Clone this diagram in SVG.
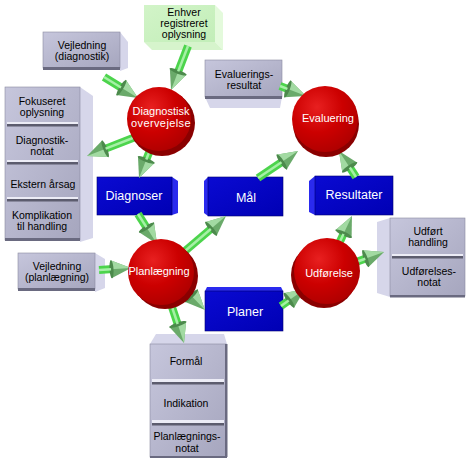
<svg xmlns="http://www.w3.org/2000/svg" width="471" height="463" viewBox="0 0 471 463">
<style>
text{font-family:"Liberation Sans",Arial,sans-serif;text-anchor:middle}
.g{font-size:10.5px;fill:#000}
.c{font-size:11px;fill:#fff}
.b{font-size:12.5px;fill:#fff}
.front{fill:url(#grayF);stroke:#8a8aa0;stroke-width:0.6}
.side{fill:#d6d6ea}
.edge{fill:#6a6a80}
.sepL{fill:#ececf6}
.sepD{fill:#5c5c6e}
.gfront{fill:url(#greenF)}
.gside{fill:#e4fadc}
.gbot{fill:#d6f4cc}
.bfront{fill:url(#blueF);stroke:#000070;stroke-width:0.6}
.bside{fill:#2a2aee}
.rim{fill:#8a0000}
.face{fill:url(#redF)}
.shaft{fill:none;stroke:#4cd44c;stroke-width:8;marker-end:url(#head)}
.hl{fill:none;stroke:#a6f0a6;stroke-width:2.5}
</style>
<defs>
<linearGradient id="grayF" x1="0" y1="0" x2="1" y2="1">
<stop offset="0" stop-color="#c6c6dc"/><stop offset="1" stop-color="#a6a6be"/>
</linearGradient>
<linearGradient id="greenF" x1="0" y1="0" x2="1" y2="1">
<stop offset="0" stop-color="#d2f4c8"/><stop offset="1" stop-color="#c2eeb8"/>
</linearGradient>
<linearGradient id="blueF" x1="0" y1="0" x2="1" y2="1">
<stop offset="0" stop-color="#0a0ad2"/><stop offset="1" stop-color="#0000b4"/>
</linearGradient>
<radialGradient id="redF" cx="0.38" cy="0.32" r="0.7">
<stop offset="0" stop-color="#e82020"/><stop offset="0.55" stop-color="#cc0000"/><stop offset="1" stop-color="#b00000"/>
</radialGradient>
<marker id="head" markerUnits="userSpaceOnUse" markerWidth="22" markerHeight="18" viewBox="0 0 22 18" refX="3" refY="9" orient="auto" overflow="visible">
<path d="M1,0 L21,9 L1,18 Z" fill="#6aaa6a"/>
<path d="M1,0 L21,9 L1,9 Z" fill="#a2daa2"/>
<ellipse cx="1.5" cy="9" rx="2" ry="9" fill="#4c8a4c"/>
</marker>
</defs>
<rect width="471" height="463" fill="#fff"/>

<g id="n-vejl-diag">
<polygon class="side" points="120,32 128,42 128,68 120,71"/>
<rect class="front" x="43" y="32" width="77" height="36"/>
<rect class="edge" x="43" y="67" width="77" height="3"/>
<text class="g" x="82" y="49">Vejledning</text>
<text class="g" x="82" y="60">(diagnostik)</text>
</g>

<g id="n-enhver">
<polygon class="gside" points="215,5 223,13 223,50 215,42"/>
<polygon class="gbot" points="144,42 215,42 223,50 152,50"/>
<rect class="gfront" x="144" y="5" width="71" height="37"/>
<text class="g" x="184" y="16">Enhver</text>
<text class="g" x="184" y="27">registreret</text>
<text class="g" x="184" y="38">oplysning</text>
</g>

<g id="n-evalres">
<polygon class="side" points="205,97 282,97 280,108 210,108"/>
<rect class="front" x="205" y="60" width="77" height="37"/>
<rect class="edge" x="205" y="96" width="77" height="3"/>
<text class="g" x="244" y="78">Evaluerings-</text>
<text class="g" x="244" y="89">resultat</text>
</g>

<g id="n-stack-left">
<polygon class="side" points="80,87 93,96 93,238 80,242"/>
<rect class="front" x="5" y="87" width="75" height="153"/>
<rect class="edge" x="5" y="238" width="75" height="3"/>
<rect class="sepL" x="7" y="122" width="71" height="2"/><rect class="sepD" x="7" y="124" width="71" height="2.5"/>
<rect class="sepL" x="7" y="160" width="71" height="2"/><rect class="sepD" x="7" y="162" width="71" height="2.5"/>
<rect class="sepL" x="7" y="197" width="71" height="2"/><rect class="sepD" x="7" y="199" width="71" height="2.5"/>
<text class="g" x="42" y="105">Fokuseret</text>
<text class="g" x="42" y="116">oplysning</text>
<text class="g" x="42" y="144">Diagnostik-</text>
<text class="g" x="42" y="155">notat</text>
<text class="g" x="43" y="188">Ekstern årsag</text>
<text class="g" x="42" y="219">Komplikation</text>
<text class="g" x="42" y="230">til handling</text>
</g>

<g id="n-vejl-plan">
<polygon class="side" points="95,253 105,259 105,288 95,292"/>
<rect class="front" x="18" y="253" width="77" height="36"/>
<rect class="edge" x="18" y="288" width="77" height="3"/>
<text class="g" x="57" y="270">Vejledning</text>
<text class="g" x="57" y="281">(planlægning)</text>
</g>

<g id="n-stack-udf">
<polygon class="side" points="377,222 390,218 390,297 377,293"/>
<rect class="front" x="390" y="218" width="75" height="78"/>
<rect class="edge" x="390" y="295" width="75" height="2.5"/>
<rect class="sepL" x="392" y="254" width="71" height="2"/><rect class="sepD" x="392" y="256" width="71" height="2.5"/>
<text class="g" x="428" y="235">Udført</text>
<text class="g" x="428" y="246">handling</text>
<text class="g" x="429" y="275">Udførelses-</text>
<text class="g" x="429" y="286">notat</text>
</g>

<g id="n-stack-plan">
<polygon class="side" points="150,344 227,344 224,334 156,334"/>
<rect class="front" x="150" y="344" width="76" height="113"/>
<rect class="edge" x="225" y="344" width="2.5" height="113"/>
<rect class="edge" x="150" y="456" width="77" height="2"/>
<rect class="sepL" x="152" y="379" width="72" height="3"/><rect class="sepD" x="152" y="382" width="72" height="2.5"/>
<rect class="sepL" x="152" y="420" width="72" height="3"/><rect class="sepD" x="152" y="423" width="72" height="2.5"/>
<text class="g" x="186" y="365">Formål</text>
<text class="g" x="186" y="407">Indikation</text>
<text class="g" x="187" y="440">Planlægnings-</text>
<text class="g" x="187" y="452">notat</text>
</g>

<g id="n-diagnoser">
<polygon class="bside" points="172,177 178,181 178,213 172,215"/>
<rect class="bfront" x="97" y="177" width="75" height="38"/>
<text class="b" x="134" y="200">Diagnoser</text>
</g>

<g id="n-maal">
<polygon class="bside" points="204,181 208,177 208,216 204,213"/>
<rect class="bfront" x="208" y="177" width="75" height="39"/>
<text class="b" x="246" y="202">Mål</text>
</g>

<g id="n-resultater">
<polygon class="bside" points="309,181 315,176 315,215 309,212"/>
<rect class="bfront" x="315" y="176" width="78" height="39"/>
<text class="b" x="354" y="199">Resultater</text>
</g>

<g id="n-planer">
<polygon class="bside" points="207,287 281,287 283,291 205,291"/>
<rect class="bfront" x="205" y="291" width="78" height="40"/>
<text class="b" x="245" y="316">Planer</text>
</g>

<g id="connectors">
<path class="shaft" d="M104,77 L122.7,88.5"/><path class="hl" d="M104,77 L121,87.5"/>
<path class="shaft" d="M188,46 L177.5,73.2"/><path class="hl" d="M188,46 L178.2,71.4"/>
<path class="shaft" d="M138,136 L103.8,149.4"/><path class="hl" d="M138,136 L105.6,148.7"/>
<path class="shaft" d="M152,145 L145.6,161.3"/><path class="hl" d="M152,145 L146.3,159.5"/>
<path class="shaft" d="M138,214 L147.4,228.8"/><path class="hl" d="M138,214 L146.4,227.2"/>
<path class="shaft" d="M178,257 L212.3,227.7"/><path class="hl" d="M178,257 L210.8,229"/>
<path class="shaft" d="M258,178 L283.1,161.1"/><path class="hl" d="M258,178 L281.5,162.2"/>
<path class="shaft" d="M356,177 L348.8,166"/><path class="hl" d="M356,177 L349.8,167.5"/>
<path class="shaft" d="M336,250 L344.3,232.3"/><path class="hl" d="M336,250 L343.5,234"/>
<path class="shaft" d="M345,266 L367.1,258.1"/><path class="hl" d="M345,266 L365.3,258.8"/>
<path class="shaft" d="M281,306 L290.3,299.4"/><path class="hl" d="M281,306 L288.7,300.5"/>
<path class="shaft" d="M178,282 L192.5,297"/><path class="hl" d="M178,282 L191.1,295.6"/>
<path class="shaft" d="M99,270 L113,269.1"/><path class="hl" d="M99,270 L111,269.2"/>
<path class="shaft" d="M280,86 L289.2,89.5"/><path class="hl" d="M280,86 L287.4,88.8"/>
<path class="shaft" d="M168,295 L178.3,325.9"/><path class="hl" d="M168,295 L177.7,324"/>
</g>

<g id="n-diagnostisk">
<circle class="rim" cx="162" cy="123" r="33"/>
<circle class="face" cx="159" cy="119" r="32"/>
<text class="c" x="161" y="115">Diagnostisk</text>
<text class="c" x="161" y="127" letter-spacing="0.4">overvejelse</text>
</g>

<g id="n-evaluering">
<circle class="rim" cx="326" cy="124" r="33"/>
<circle class="face" cx="325" cy="119" r="33"/>
<text class="c" x="328" y="122">Evaluering</text>
</g>

<g id="n-planlaegning">
<circle class="rim" cx="165" cy="276" r="33"/>
<circle class="face" cx="161" cy="272" r="33"/>
<text class="c" x="159" y="275">Planlægning</text>
</g>

<g id="n-udfoerelse">
<circle class="rim" cx="324" cy="275" r="33"/>
<circle class="face" cx="327" cy="271" r="33"/>
<text class="c" x="329" y="277">Udførelse</text>
</g>
</svg>
